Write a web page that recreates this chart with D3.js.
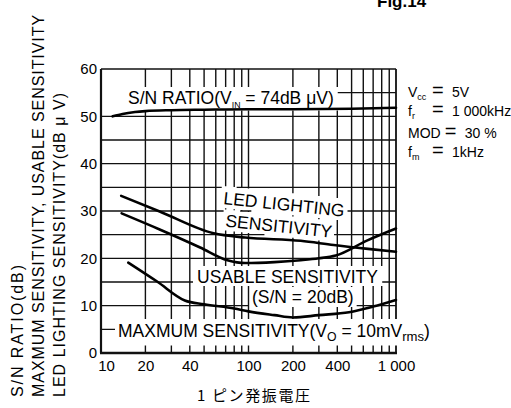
<!DOCTYPE html>
<html><head><meta charset="utf-8">
<script src="https://cdn.jsdelivr.net/npm/d3@7"></script>
<style>
html,body{margin:0;padding:0;background:#fff;}
svg{display:block;font-family:"Liberation Sans",Arial,Helvetica,sans-serif;}
</style>
</head><body>
<svg id="c" width="511" height="408"></svg>
<script>
// ---------- data ----------
const xTickValues = [10, 20, 40, 100, 200, 400, 1000];
const xTickLabels = ["10", "20", "40", "100", "200", "400", "1 000"];
const yTickValues = [0, 10, 20, 30, 40, 50, 60];
const xGridValues = [20, 30, 40, 50, 60, 70, 80, 90, 100, 200, 300, 400, 500, 600, 700, 800, 900];
const yGridValues = [5, 10, 15, 20, 25, 30, 35, 40, 45, 50, 55];

const snFreq  = [12, 14, 17, 20, 30, 50, 100, 200, 500, 1000];
const snValue = [50.0, 50.5, 50.9, 51.1, 51.3, 51.4, 51.5, 51.5, 51.6, 51.8];
const ledFreq  = [13.7, 25, 58, 95, 226, 378, 646, 1000];
const ledValue = [33.2, 29.9, 25.3, 24.4, 23.7, 22.8, 22.0, 21.4];
const usableFreq  = [13.8, 25, 47, 72, 95, 150, 226, 300, 390, 640, 1000];
const usableValue = [29.5, 26.1, 22.3, 19.6, 19.0, 19.2, 19.6, 20.0, 20.6, 23.8, 26.3];
const maxFreq  = [15.3, 24, 37, 50, 80, 100, 150, 200, 300, 480, 700, 1000];
const maxValue = [19.1, 15.1, 11.1, 10.3, 9.4, 8.8, 8.0, 7.5, 8.0, 8.6, 9.8, 11.2];

const yTitleLines = ["S/N RATIO(dB)", "MAXMUM SENSITIVITY, USABLE SENSITIVITY", "LED LIGHTING SENSITIVITY(dB \u03bc V)"];
const xTitle = "1 ピン発振電圧";
const condNames  = ["V", "f", "MOD", "f"];
const condSubs   = ["cc", "r", "", "m"];
const condValues = ["5V", "1 000kHz", "30 %", "1kHz"];

// ---------- setup ----------
const svg = d3.select("#c");
const x = d3.scaleLog().domain([10, 1000]).range([101, 396]);
const y = d3.scaleLinear().domain([0, 60]).range([353, 69]);

const gGrid = svg.append("g");
const gFrame = svg.append("g");
const gCurves = svg.append("g");
const gText = svg.append("g");

// ---------- curve labels; their boxes are cut out of the grid ----------
const boxes = [];
function label(o) {
  const rot = o.rot || 0;
  const g = gText.append("g").attr("transform", `translate(${o.x},${o.y}) rotate(${rot})`);
  const t = g.append("text").attr("font-size", o.size).attr("fill", "#000");
  let shifted = 0;
  o.parts.forEach(p => {
    const s = t.append("tspan").text(p.t);
    if (p.sub) { s.attr("font-size", o.size * (p.scale || 0.62)).attr("dy", 3.5 - shifted); shifted = 3.5; }
    else if (shifted) { s.attr("dy", -shifted); shifted = 0; }
  });
  const b = t.node().getBBox();
  const pd = o.pad || [2, 2, 2, 2];
  boxes.push({tx: o.x, ty: o.y, rot: rot,
    x0: b.x - pd[0], y0: b.y - pd[1], x1: b.x + b.width + pd[2], y1: b.y + b.height + pd[3]});
}

label({x: 128, y: 104, size: 17.5, pad: [26, 1, 4, 1], parts: [{t: "S/N RATIO(V"}, {t: "IN", sub: true, scale: 0.5}, {t: " = 74dB \u03bcV)"}]});
label({x: 223, y: 204, rot: 6, size: 17.5, pad: [3, 2, 3, 0], parts: [{t: "LED LIGHTING"}]});
label({x: 225, y: 226.5, rot: 6, size: 17.5, pad: [3, 1, 2, 0], parts: [{t: "SENSITIVITY"}]});
label({x: 197, y: 283, size: 17.5, pad: [4, 1, 4, -1], parts: [{t: "USABLE SENSITIVITY"}]});
label({x: 252, y: 303, size: 17.5, pad: [3, 0, 3, 0], parts: [{t: "(S/N = 20dB)"}]});
label({x: 118, y: 337, size: 17.5, pad: [3, 2, 3, 2], parts: [{t: "MAXMUM SENSITIVITY(V"}, {t: "O", sub: true, scale: 0.7}, {t: " = 10mV"}, {t: "rms", sub: true, scale: 0.75}, {t: ")"}]});

// segment clipping against (possibly rotated) label boxes
function toLocal(p, bx) {
  const a = -bx.rot * Math.PI / 180, dx = p[0] - bx.tx, dy = p[1] - bx.ty;
  return [dx * Math.cos(a) - dy * Math.sin(a), dx * Math.sin(a) + dy * Math.cos(a)];
}
function hitInterval(p0, p1, bx) {
  const q0 = toLocal(p0, bx), q1 = toLocal(p1, bx);
  const dx = q1[0] - q0[0], dy = q1[1] - q0[1];
  let t0 = 0, t1 = 1;
  const tests = [[-dx, q0[0] - bx.x0], [dx, bx.x1 - q0[0]], [-dy, q0[1] - bx.y0], [dy, bx.y1 - q0[1]]];
  for (const [p, q] of tests) {
    if (p === 0) { if (q < 0) return null; continue; }
    const r = q / p;
    if (p < 0) t0 = Math.max(t0, r); else t1 = Math.min(t1, r);
  }
  return t0 < t1 ? [t0, t1] : null;
}
function visiblePath(segs) {
  const path = d3.path();
  segs.forEach(([p0, p1]) => {
    const cut = boxes.map(bx => hitInterval(p0, p1, bx)).filter(Boolean).sort((a, b) => a[0] - b[0]);
    let start = 0;
    const keep = [];
    cut.forEach(([a, b]) => { if (a > start) keep.push([start, a]); start = Math.max(start, b); });
    if (start < 1) keep.push([start, 1]);
    keep.forEach(([a, b]) => {
      path.moveTo(p0[0] + a * (p1[0] - p0[0]), p0[1] + a * (p1[1] - p0[1]));
      path.lineTo(p0[0] + b * (p1[0] - p0[0]), p0[1] + b * (p1[1] - p0[1]));
    });
  });
  return path.toString();
}

// ---------- grid ----------
const gridSegs = xGridValues.map(d => [[x(d), y(0)], [x(d), y(60)]])
  .concat(yGridValues.map(d => [[x(10), y(d)], [x(1000), y(d)]]));
gGrid.append("path").attr("d", visiblePath(gridSegs)).attr("fill", "none")
  .attr("stroke", "#111").attr("stroke-width", 1.4);
gGrid.append("path").attr("d", visiblePath([[[x(1000), y(60)], [x(1000), y(0)]]])).attr("fill", "none")
  .attr("stroke", "#111").attr("stroke-width", 1.8);

// ---------- frame ----------
gFrame.append("line").attr("x1", x(10)).attr("x2", x(1000)).attr("y1", y(60)).attr("y2", y(60)).attr("stroke", "#111").attr("stroke-width", 1.3);
gFrame.append("line").attr("x1", x(10)).attr("x2", x(10)).attr("y1", y(60)).attr("y2", y(0)).attr("stroke", "#111").attr("stroke-width", 2.2);
gFrame.append("line").attr("x1", x(10) - 1).attr("x2", x(1000) + 1).attr("y1", y(0)).attr("y2", y(0)).attr("stroke", "#111").attr("stroke-width", 2.4);

// ---------- axes ----------
const yAxis = d3.axisLeft(y).tickValues(yTickValues).tickSize(0).tickPadding(4).tickFormat(d3.format("d"));
const ya = svg.append("g").attr("transform", `translate(${x(10)},0)`).call(yAxis);
ya.select(".domain").remove();
ya.selectAll("text").attr("font-size", 15).attr("fill", "#000").attr("font-family", "Liberation Sans, Arial, sans-serif");

const xAxis = d3.axisBottom(x).tickValues(xTickValues).tickSize(0).tickPadding(7).tickFormat((d, i) => xTickLabels[i]);
const xa = svg.append("g").attr("transform", `translate(0,${y(0)})`).call(xAxis);
xa.select(".domain").remove();
xa.selectAll("text").attr("font-size", 15).attr("fill", "#000").attr("font-family", "Liberation Sans, Arial, sans-serif");
xa.selectAll("text").filter((d, i) => i === 0).attr("dx", 5);

// ---------- curves ----------
const line = d3.line().x(d => x(d[0])).y(d => y(d[1])).curve(d3.curveMonotoneX);
const series = [d3.zip(snFreq, snValue), d3.zip(ledFreq, ledValue), d3.zip(usableFreq, usableValue), d3.zip(maxFreq, maxValue)];
gCurves.selectAll("path").data(series).join("path")
  .attr("d", line).attr("fill", "none").attr("stroke", "#000").attr("stroke-width", 2.6)
  .attr("stroke-linejoin", "round").attr("stroke-linecap", "round");

// ---------- measurement conditions ----------
const cond = svg.append("g").attr("fill", "#000");
const condBase = [97, 116, 138, 157];
condNames.forEach((nm, i) => {
  const t = cond.append("text").attr("x", 408).attr("y", condBase[i]).attr("font-size", 14);
  t.append("tspan").text(nm);
  if (condSubs[i]) t.append("tspan").text(condSubs[i]).attr("font-size", 9).attr("dy", 3);
  const end = 408 + t.node().getComputedTextLength();
  const eqX = Math.max(432, end + 4);
  t.append("tspan").attr("x", eqX).attr("y", condBase[i]).attr("font-size", 20).text("=");
  t.append("tspan").attr("x", eqX + 20).attr("y", condBase[i]).attr("font-size", 14).text(condValues[i]);
});

// ---------- titles ----------
const yTitleX = [23, 43.5, 64.5];
const yTitleLen = [132, 382, 304];
yTitleLines.forEach((s, i) => {
  const t = svg.append("text").attr("transform", `translate(${yTitleX[i]},397) rotate(-90)`)
    .attr("font-size", 16).attr("fill", "#000").text(s);
  const nat = t.node().getComputedTextLength();
  t.attr("letter-spacing", ((yTitleLen[i] - nat) / (s.length - 1)).toFixed(2));
});
const xt = svg.append("text").attr("x", 197).attr("y", 401).attr("font-size", 15)
  .attr("font-family", "Noto Sans CJK JP, sans-serif").attr("fill", "#000").text(xTitle);
const xtNat = xt.node().getComputedTextLength();
xt.attr("letter-spacing", ((113 - xtNat) / (xTitle.length - 1)).toFixed(2));
svg.append("text").attr("x", 377).attr("y", 7).attr("font-size", 17).attr("font-weight", "bold")
  .attr("fill", "#000").text("Fig.14");
</script>
</body></html>
